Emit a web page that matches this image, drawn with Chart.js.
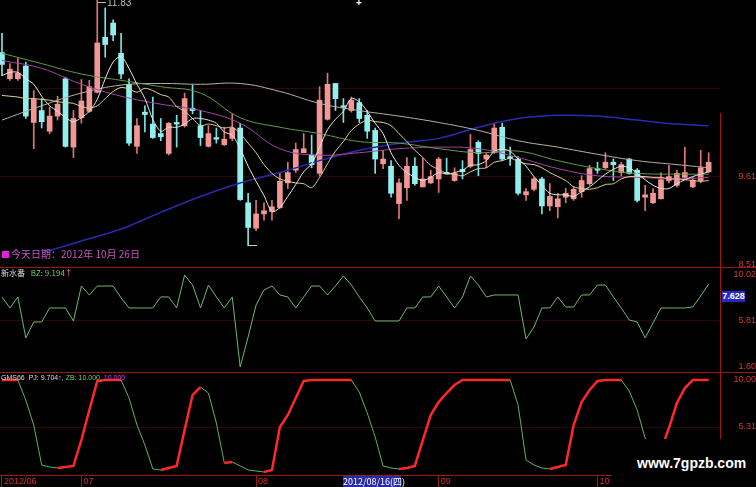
<!DOCTYPE html>
<html>
<head>
<meta charset="utf-8">
<script src="https://cdn.jsdelivr.net/npm/chart.js@4.4.1/dist/chart.umd.min.js"></script>
<style>
    body { margin: 0; background: #000; width: 756px; height: 487px; overflow: hidden; position: relative; font-family: "Liberation Sans", Arial, sans-serif; }
    canvas { position: absolute; left: 0; }
    .hl { position: absolute; left: 0; width: 756px; height: 1px; background: #a01616; }
    .vl { position: absolute; left: 720px; width: 1px; background: #a01616; }
    .t { position: absolute; white-space: nowrap; line-height: 1; }
</style>
</head>
<body>
<canvas id="kline" width="756" height="268" style="top:0"></canvas>
<canvas id="bz" width="756" height="104" style="top:268px"></canvas>
<canvas id="pj" width="756" height="115" style="top:372px"></canvas>

<div class="hl" style="top:267px"></div>
<div class="hl" style="top:372px"></div>
<div class="hl" style="top:475px"></div>
<div class="vl" style="top:113px;height:155px"></div>
<div class="vl" style="top:268px;height:104px"></div>
<div class="vl" style="top:372px;height:103px"></div>

<!-- marcas de maximo / minimo -->
<div class="t" style="left:98px;top:2px;width:8px;height:1px;background:#bbb"></div>
<div class="t" style="left:107px;top:-2px;font-size:10px;color:#bdbdbd">11.83</div>
<div class="t" style="left:356px;top:-2px;font-size:10px;font-weight:bold;color:#fff">+</div>
<div class="t" style="left:248px;top:245px;width:9px;height:1px;background:#ccc"></div>

<div class="t" style="left:2px;top:251px;width:7px;height:7px;background:#e020e0"></div>
<div class="t" style="left:11px;top:249px;font-size:10px;color:#c455c4;font-family:'Noto Sans CJK SC',sans-serif">今天日期：2012年 10月 26日</div>

<div class="t" style="left:1px;top:269px;font-size:8px;font-family:'Noto Sans CJK SC',sans-serif">
    <span style="color:#ddd">新水番</span>
    <span style="color:#6ad06a;margin-left:4px">BZ: 9.194</span><span style="color:#ff6a6a">↑</span>
</div>
<div class="t" style="left:722px;top:291px;width:23px;height:11px;background:#2626c4;color:#fff;font-size:9px;font-weight:bold;text-align:center;line-height:11px">7.628</div>

<div class="t" style="left:1px;top:374px;font-size:7px">
    <span style="color:#ddd">GMS66</span>
    <span style="color:#ddd;margin-left:2px">PJ: 9.704↑,</span>
    <span style="color:#6ad06a">ZB: 10.000,</span>
    <span style="color:#d040d0">10.000</span>
</div>

<div class="t" style="left:343px;top:476px;width:58px;height:11px;background:#2a2aa8;color:#fff;font-size:9px;line-height:11px;text-align:center;font-family:'Noto Sans CJK SC',sans-serif">2012/08/16(四)</div>

<div class="t" style="left:612px;top:439px;width:144px;height:48px;background:#000"></div>
<div class="t" style="left:637px;top:456px;font-size:14px;font-weight:bold;color:#fff">www.7gpzb.com</div>

<script>
// 90 sesiones, 2012/06/15 .. 2012/10/26
const open = [11.17, 10.84, 10.84, 11.00, 10.29, 10.44, 10.18, 10.37, 10.84, 9.98,
    10.35, 10.43, 10.67, 11.36, 11.54, 11.16, 10.77, 9.99, 10.42, 10.27,
    10.15, 9.90, 10.29, 10.25, 10.47, 10.25, 9.99, 10.10, 10.01, 10.09,
    10.22, 9.28, 8.96, 9.14, 9.17, 9.22, 9.53, 9.69, 9.91, 9.88,
    9.65, 10.33, 10.78, 10.50, 10.44, 10.54, 10.38, 10.19, 9.77, 9.74,
    9.27, 9.47, 9.74, 9.48, 9.53, 9.58, 9.66, 9.56, 9.70, 9.74,
    10.04, 9.83, 9.91, 10.23, 9.86, 9.83, 9.38, 9.45, 9.58, 9.24,
    9.23, 9.35, 9.33, 9.42, 9.52, 9.71, 9.72, 9.79, 9.66, 9.83,
    9.69, 9.35, 9.28, 9.33, 9.56, 9.50, 9.60, 9.48, 9.56, 9.67];
const high = [11.41, 11.03, 11.10, 11.05, 10.69, 10.59, 10.48, 10.62, 10.86, 10.44,
    10.83, 10.82, 11.83, 11.73, 11.58, 11.41, 10.84, 10.34, 10.50, 10.61,
    10.34, 10.29, 10.38, 10.66, 10.76, 10.44, 10.25, 10.22, 10.23, 10.40,
    10.28, 9.40, 9.31, 9.28, 9.31, 9.65, 9.79, 10.03, 10.15, 10.13,
    10.74, 10.91, 10.78, 10.59, 10.61, 10.59, 10.44, 10.22, 9.94, 9.81,
    9.58, 9.85, 9.85, 9.84, 9.69, 9.85, 9.84, 9.72, 9.81, 10.14,
    10.06, 9.90, 10.28, 10.28, 9.98, 9.86, 9.46, 9.60, 9.60, 9.52,
    9.40, 9.46, 9.48, 9.62, 9.75, 9.79, 9.91, 9.83, 9.79, 9.84,
    9.71, 9.50, 9.46, 9.66, 9.75, 9.69, 9.98, 9.60, 9.94, 9.91];
const low = [10.88, 10.82, 10.82, 10.34, 9.96, 10.22, 10.15, 10.32, 9.98, 9.85,
    10.28, 10.42, 10.66, 11.11, 11.32, 10.84, 10.00, 9.90, 10.17, 10.09,
    10.06, 9.88, 9.98, 10.23, 10.40, 10.00, 9.98, 10.03, 10.00, 10.06,
    9.31, 8.74, 8.93, 9.06, 9.06, 9.21, 9.46, 9.66, 9.91, 9.72,
    9.62, 10.32, 10.44, 10.29, 10.42, 10.29, 10.09, 9.65, 9.71, 9.35,
    9.08, 9.31, 9.50, 9.48, 9.52, 9.41, 9.65, 9.55, 9.58, 9.72,
    9.62, 9.72, 9.90, 9.81, 9.75, 9.38, 9.31, 9.43, 9.14, 9.18,
    9.09, 9.28, 9.31, 9.35, 9.50, 9.65, 9.71, 9.56, 9.62, 9.64,
    9.29, 9.18, 9.27, 9.33, 9.53, 9.48, 9.58, 9.47, 9.53, 9.66];
const close = [11.02, 10.96, 10.91, 10.37, 10.58, 10.30, 10.37, 10.52, 9.99, 10.34,
    10.56, 10.74, 11.29, 11.27, 11.39, 10.90, 10.03, 10.25, 10.39, 10.10,
    10.11, 10.28, 10.27, 10.59, 10.44, 10.10, 10.15, 10.08, 10.08, 10.22,
    9.32, 8.97, 9.14, 9.18, 9.23, 9.55, 9.66, 9.95, 9.96, 9.76,
    10.57, 10.77, 10.59, 10.48, 10.57, 10.34, 10.18, 9.83, 9.83, 9.40,
    9.53, 9.74, 9.52, 9.58, 9.61, 9.83, 9.65, 9.65, 9.67, 9.95,
    9.90, 9.88, 10.22, 9.83, 9.84, 9.40, 9.42, 9.58, 9.24, 9.36,
    9.33, 9.40, 9.45, 9.56, 9.71, 9.69, 9.79, 9.76, 9.76, 9.65,
    9.31, 9.38, 9.40, 9.57, 9.61, 9.65, 9.66, 9.56, 9.72, 9.79];

// medias cortas, una por sesion
const ma5 = [10.88, 10.92, 10.92, 10.84, 10.77, 10.62, 10.50, 10.43, 10.35, 10.30,
    10.35, 10.43, 10.58, 10.84, 11.05, 11.12, 10.97, 10.77, 10.59, 10.33,
    10.18, 10.23, 10.23, 10.27, 10.34, 10.34, 10.32, 10.28, 10.17, 10.13,
    9.96, 9.74, 9.55, 9.37, 9.17, 9.22, 9.36, 9.51, 9.67, 9.77,
    9.98, 10.20, 10.33, 10.43, 10.59, 10.55, 10.43, 10.28, 10.15, 9.91,
    9.75, 9.66, 9.60, 9.56, 9.60, 9.66, 9.64, 9.66, 9.69, 9.75,
    9.76, 9.81, 9.93, 9.95, 9.93, 9.83, 9.74, 9.61, 9.50, 9.40,
    9.38, 9.38, 9.36, 9.42, 9.48, 9.56, 9.64, 9.70, 9.74, 9.72,
    9.65, 9.57, 9.50, 9.46, 9.46, 9.52, 9.57, 9.61, 9.64, 9.67];
const ma10 = [10.63, 10.62, 10.61, 10.59, 10.59, 10.58, 10.57, 10.55, 10.54, 10.53,
    10.49, 10.47, 10.50, 10.59, 10.68, 10.73, 10.71, 10.67, 10.72, 10.69,
    10.64, 10.61, 10.49, 10.43, 10.34, 10.25, 10.27, 10.25, 10.22, 10.23,
    10.15, 10.03, 9.91, 9.76, 9.65, 9.58, 9.55, 9.53, 9.52, 9.47,
    9.60, 9.77, 9.93, 10.05, 10.19, 10.27, 10.32, 10.30, 10.29, 10.25,
    10.15, 10.05, 9.94, 9.85, 9.75, 9.70, 9.65, 9.64, 9.62, 9.67,
    9.71, 9.72, 9.79, 9.81, 9.84, 9.80, 9.77, 9.76, 9.72, 9.66,
    9.61, 9.56, 9.48, 9.46, 9.45, 9.47, 9.51, 9.52, 9.58, 9.61,
    9.61, 9.61, 9.60, 9.60, 9.58, 9.58, 9.57, 9.56, 9.55, 9.56];

// medias largas, leidas cada 5 sesiones
const longIdx = [0, 5, 10, 15, 20, 25, 30, 35, 40, 45, 50, 55, 60, 65, 70, 75, 80, 85, 89];
const maGreen = [11.16, 11.03, 10.90, 10.82, 10.74, 10.66, 10.35, 10.23, 10.15, 10.05, 10.03, 9.96, 9.91, 9.93, 9.81, 9.71, 9.65, 9.64, 9.64];
const maMagenta = [11.07, 10.97, 10.77, 10.62, 10.52, 10.44, 10.28, 9.96, 9.88, 9.91, 9.96, 9.98, 9.96, 9.85, 9.71, 9.62, 9.60, 9.58, 9.60];
const maGray = [10.32, 10.50, 10.66, 10.76, 10.78, 10.77, 10.78, 10.68, 10.53, 10.44, 10.37, 10.29, 10.19, 10.06, 9.98, 9.89, 9.81, 9.76, 9.72];
const blueIdx = [5, 10, 15, 20, 25, 30, 35, 40, 45, 50, 55, 60, 65, 70, 75, 80, 85, 89];
const maBlue = [8.65, 8.80, 8.95, 9.16, 9.36, 9.53, 9.66, 9.81, 9.94, 10.03, 10.09, 10.23, 10.34, 10.38, 10.37, 10.32, 10.27, 10.25];

// indicador BZ (panel 2)
const bz = [8.01, 7.00, 8.01, 4.26, 5.72, 5.72, 7.00, 7.00, 7.00, 5.81,
    9.01, 8.19, 9.01, 9.01, 9.01, 7.92, 7.00, 7.00, 7.00, 7.00,
    8.01, 8.01, 7.00, 10.02, 9.10, 7.00, 9.10, 8.01, 7.00, 8.01,
    1.60, 4.35, 7.27, 8.65, 9.01, 8.19, 8.01, 7.00, 8.01, 9.01,
    9.01, 8.19, 9.01, 9.93, 9.10, 8.01, 7.00, 5.81, 5.81, 5.81,
    5.81, 7.00, 7.00, 8.01, 8.01, 9.01, 8.01, 7.00, 8.01, 9.93,
    9.10, 8.01, 8.19, 8.19, 8.19, 8.19, 4.16, 5.26, 7.00, 7.00,
    8.01, 7.09, 7.09, 8.19, 8.19, 9.10, 9.10, 8.01, 7.00, 5.90,
    5.72, 4.26, 5.63, 7.00, 7.00, 7.00, 7.00, 7.09, 8.10, 9.19];

// indicador PJ (panel 3)
const pj = [10.00, 10.00, 10.00, 8.00, 5.51, 1.52, 1.32, 1.22, 1.32, 1.42,
    4.01, 7.01, 9.90, 10.00, 10.00, 10.00, 8.20, 5.51, 3.51, 1.12,
    1.02, 1.22, 1.42, 5.01, 8.50, 9.30, 8.70, 5.71, 1.72, 1.82,
    1.42, 1.02, 0.92, 0.82, 1.02, 5.31, 6.51, 8.20, 9.90, 10.00,
    10.00, 10.00, 10.00, 10.00, 10.00, 8.80, 6.71, 4.31, 1.42, 1.22,
    1.12, 1.22, 1.42, 4.01, 6.51, 7.80, 8.70, 9.50, 10.00, 10.00,
    10.00, 10.00, 10.00, 10.00, 10.00, 7.50, 2.02, 1.52, 1.22, 1.12,
    1.32, 1.52, 5.51, 7.80, 9.00, 9.90, 10.00, 10.00, 10.00, 8.90,
    7.01, 4.21, 2.02, 3.01, 5.21, 7.70, 9.20, 10.00, 10.00, 10.00];

const priceTicks = [8.51, 9.61, 10.72, 11.83];
const priceLabels = ['8.51', '9.61', '', ''];
const bzTicks = [1.60, 5.81, 10.02];
const pjTicks = [0.62, 5.31, 10.00];
const monthIdx = [0, 10, 32, 55, 75];
const monthLabels = ['2012/06', '07', '08', '09', '10'];

const idx = close.map((c, i) => i);
const isUp = close.map((c, i) => c >= open[i]);
const xRange = { type: 'linear', min: -0.25, max: 90.43, offset: false, display: false };

function pts(values, xs) {
    return values.map((v, k) => ({ x: xs ? xs[k] : k, y: v }));
}

function line(values, xs, color, width, tension) {
    return { type: 'line', data: pts(values, xs), borderColor: color, borderWidth: width,
        pointRadius: 0, tension: tension, fill: false, order: 1 };
}

function yAxis(min, max, ticks, labels, pad, gridAt) {
    return {
        type: 'linear', position: 'right', min: min, max: max,
        afterBuildTicks: s => { s.ticks = ticks.map(v => ({ value: v })); },
        afterFit: s => { s.width = 36; s.paddingTop = 0; s.paddingBottom = 0; },
        grid: { color: c => gridAt.includes(c.index) ? '#2c0808' : 'rgba(0,0,0,0)', drawTicks: false },
        border: { display: false },
        ticks: { color: '#d23a3a', padding: pad, crossAlign: 'far',
            font: { size: 9, family: 'Liberation Sans' },
            callback: (v, i) => labels[i] }
    };
}

const common = {
    responsive: false, animation: false, devicePixelRatio: 1, events: [],
    layout: { padding: 0 },
    plugins: { legend: { display: false }, tooltip: { enabled: false } }
};

// velas + medias
new Chart(document.getElementById('kline'), {
    type: 'bar',
    data: {
        datasets: [
            line(ma5, null, '#e8e8e8', 1, 0.3),
            line(ma10, null, '#ddd292', 1, 0.3),
            line(maGreen, longIdx, '#5f9c48', 1, 0.4),
            line(maMagenta, longIdx, '#a444a4', 1, 0.4),
            line(maGray, longIdx, '#b8b0a4', 1, 0.4),
            line(maBlue, blueIdx, '#2a2ab0', 1.5, 0.4),
            {
                data: idx.map(i => ({ x: i, y: [low[i], high[i]] })),
                backgroundColor: isUp.map(u => u ? '#e27474' : '#7ee2e2'),
                barThickness: 1, grouped: false, order: 3
            },
            {
                data: idx.map(i => ({ x: i, y: [open[i], close[i]] })),
                backgroundColor: isUp.map(u => u ? '#f29696' : '#90f0f0'),
                barThickness: 5, minBarLength: 1, grouped: false, order: 2
            }
        ]
    },
    options: { ...common,
        scales: { x: xRange, y: yAxis(8.46, 11.83, priceTicks, priceLabels, 12, [1, 2]) } }
});

new Chart(document.getElementById('bz'), {
    type: 'line',
    data: { datasets: [ line(bz, null, '#70b870', 1, 0) ] },
    options: { ...common,
        scales: { x: xRange, y: yAxis(1.14, 10.66, bzTicks, bzTicks.map(v => v.toFixed(2)), 7, [1]) } }
});

// rojo al subir, verde al bajar
new Chart(document.getElementById('pj'), {
    type: 'line',
    data: {
        datasets: [{
            data: pts(pj), pointRadius: 0, borderWidth: 1, tension: 0,
            segment: {
                borderColor: c => c.p1.parsed.y >= c.p0.parsed.y ? '#ff2828' : '#62b262',
                borderWidth: c => c.p1.parsed.y >= c.p0.parsed.y ? 2.5 : 1
            }
        }]
    },
    options: { ...common,
        scales: {
            x: {
                type: 'linear', min: -0.25, max: 90.43, offset: false, position: 'bottom',
                afterBuildTicks: s => { s.ticks = monthIdx.map(v => ({ value: v })); },
                afterFit: s => { s.height = 12; s.paddingLeft = 0; s.paddingRight = 0; },
                grid: { drawOnChartArea: false, drawTicks: true, tickLength: 12, color: '#a01616' },
                border: { display: false },
                ticks: { color: '#d23030', padding: -11, align: 'start', labelOffset: 2,
                    maxRotation: 0, autoSkip: false, font: { size: 9, family: 'Liberation Sans' },
                    callback: (v, i) => monthLabels[i] }
            },
            y: yAxis(0.52, 10.80, pjTicks, pjTicks.map(v => v.toFixed(2)), 7, [1])
        } }
});
</script>
</body>
</html>
